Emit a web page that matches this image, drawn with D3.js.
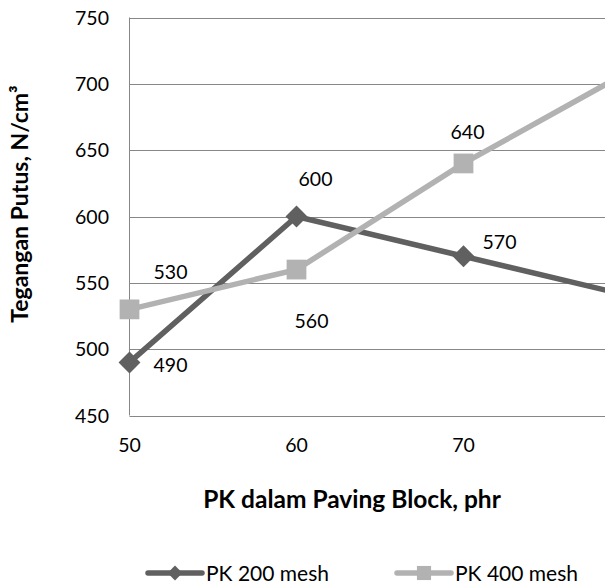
<!DOCTYPE html>
<html>
<head>
<meta charset="utf-8">
<script src="https://cdn.jsdelivr.net/npm/d3@7/dist/d3.min.js"></script>
<style>
  body { margin: 0; background: #fff; }
  svg text { font-family: Lato, "Open Sans", sans-serif; fill: #000; }
</style>
</head>
<body>
<div id="chart"></div>
<script>
var xValues   = [50, 60, 70, 80];
var xTicks    = [50, 60, 70];
var yTicks    = [450, 500, 550, 600, 650, 700, 750];
var pk200     = [490, 600, 570, 540];
var pk400     = [530, 560, 640, 710];
var pk200Name = "PK 200 mesh";
var pk400Name = "PK 400 mesh";

var colorDark  = "#606060";
var colorLight = "#b2b2b2";

var width = 605, height = 587;
var margin = {left: 129.5, top: 17.5, bottom: 171};

var svg = d3.select("#chart").append("svg")
	.attr("width", width)
	.attr("height", height);

// x spacing: 167px per 10 phr, chart is cut off at the right edge
var x = d3.scaleLinear().domain([50, 60]).range([margin.left, margin.left + 167]);
var y = d3.scaleLinear().domain([450, 750]).range([height - margin.bottom - 0.5, margin.top]);

svg.append("defs").append("clipPath").attr("id", "plotClip")
	.append("rect")
	.attr("x", margin.left - 20).attr("y", 0)
	.attr("width", width - margin.left + 20).attr("height", height - margin.bottom + 20);

// gridlines
svg.append("g").selectAll("line")
	.data(yTicks)
	.enter()
	.append("line")
	.attr("x1", margin.left).attr("x2", width)
	.attr("y1", function(d){ return Math.round(y(d)) + 0.5; })
	.attr("y2", function(d){ return Math.round(y(d)) + 0.5; })
	.style("stroke", "#878787")
	.style("stroke-width", 1);

// y axis line
svg.append("line")
	.attr("x1", margin.left).attr("x2", margin.left)
	.attr("y1", y(750)).attr("y2", y(450))
	.style("stroke", "#878787");

// y tick labels
svg.append("g").selectAll("text")
	.data(yTicks)
	.enter()
	.append("text")
	.attr("x", 109)
	.attr("y", function(d){ return y(d) + 7; })
	.attr("text-anchor", "end")
	.style("font-size", "19.5px")
	.text(function(d){ return d; });

// x tick labels
svg.append("g").selectAll("text")
	.data(xTicks)
	.enter()
	.append("text")
	.attr("x", function(d){ return x(d); })
	.attr("y", 452)
	.attr("text-anchor", "middle")
	.style("font-size", "19.5px")
	.text(function(d){ return d; });

// axis titles
svg.append("text")
	.attr("x", 352).attr("y", 508)
	.attr("text-anchor", "middle")
	.style("font-size", "24.5px")
	.style("font-weight", "bold")
	.text("PK dalam Paving Block, phr");

svg.append("text")
	.attr("transform", "translate(28,204) rotate(-90)")
	.attr("text-anchor", "middle")
	.style("font-size", "23px")
	.style("font-weight", "bold")
	.text("Tegangan Putus, N/cm³");

function marker(sel, shape, size) {
	// diamonds are squares turned by 45 degrees, as in the original
	sel.attr("d", d3.symbol().type(d3.symbolSquare).size(size));
	if (shape === "diamond") sel.attr("transform", function(){ return d3.select(this).attr("transform") + " rotate(45)"; });
}

function drawSeries(values, color, shape) {
	var pts = values.map(function(v, i){ return [xValues[i], v]; });
	var g = svg.append("g").attr("clip-path", "url(#plotClip)");
	g.append("path")
		.datum(pts)
		.attr("d", d3.line().x(function(d){ return x(d[0]); }).y(function(d){ return y(d[1]); }))
		.style("fill", "none")
		.style("stroke", color)
		.style("stroke-width", 5.5);
	g.selectAll(".m")
		.data(pts)
		.enter()
		.append("path")
		.attr("transform", function(d){ return "translate(" + x(d[0]) + "," + y(d[1]) + ")"; })
		.call(marker, shape, shape === "diamond" ? 240 : 390)
		.style("fill", color);
}

drawSeries(pk200, colorDark, "diamond");
drawSeries(pk400, colorLight, "square");

// data labels (offset from their points, as placed in the original)
var labelOffsets200 = [[41, 3], [19, -38], [36, -14]];
var labelOffsets400 = [[41, -37], [15, 51], [4, -31]];

function drawLabels(values, offsets) {
	svg.append("g").selectAll("text")
		.data(offsets)
		.enter()
		.append("text")
		.attr("x", function(d, i){ return x(xValues[i]) + d[0]; })
		.attr("y", function(d, i){ return y(values[i]) + d[1] + 7; })
		.attr("text-anchor", "middle")
		.style("font-size", "19.5px")
		.text(function(d, i){ return values[i]; });
}
drawLabels(pk200, labelOffsets200);
drawLabels(pk400, labelOffsets400);

// legend
var legend = [
	{name: pk200Name, color: colorDark, shape: "diamond", x: 148},
	{name: pk400Name, color: colorLight, shape: "square", x: 397}
];
var lg = svg.append("g").selectAll("g")
	.data(legend)
	.enter()
	.append("g")
	.attr("transform", function(d){ return "translate(" + d.x + ",573)"; });
lg.append("line")
	.attr("x1", 0).attr("x2", 54)
	.style("stroke", function(d){ return d.color; })
	.style("stroke-width", 5.5)
	.style("stroke-linecap", "round");
lg.each(function(d){
	d3.select(this).append("path")
		.attr("transform", "translate(27,0)")
		.call(marker, d.shape, d.shape === "diamond" ? 110 : 200)
		.style("fill", d.color);
});
lg.append("text")
	.attr("x", 58).attr("y", 7.5)
	.style("font-size", "21px")
	.text(function(d){ return d.name; });
</script>
</body>
</html>
